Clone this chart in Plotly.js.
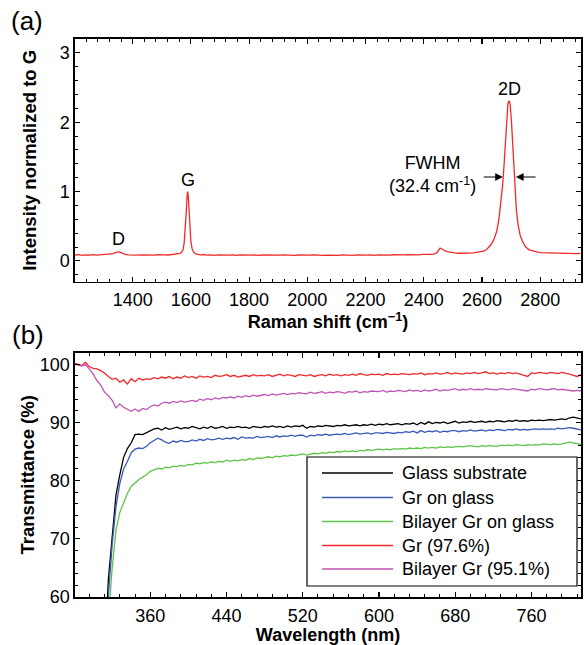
<!DOCTYPE html>
<html>
<head>
<meta charset="utf-8">
<script src="https://cdn.plot.ly/plotly-3.0.1.min.js"></script>
<style>html,body{margin:0;padding:0;background:#fff;}#chart{width:584px;height:645px;}</style>
</head>
<body>
<div id="chart"></div>
<script>
// ---------- Panel (a): Raman spectrum ----------
const ramanShift = [1202,1215,1228,1240,1252,1265,1278,1290,1302,1312,1322,1332,1340,1346,1352,1358,1365,1374,1385,1397,
 1410,1422,1435,1447,1460,1472,1485,1497,1510,1522,1535,1547,1556,1563,1568,1573,1577,1581,1584,1587,1589,1591,1594,1597,1600,1604,1609,1615,1623,1632,
 1645,1657,1670,1682,1695,1707,1720,1732,1745,1757,1770,1782,1795,1807,1820,1832,1845,1857,1870,1882,1895,1907,1920,1932,1945,1957,1970,1982,1995,
 2007,2020,2032,2045,2057,2070,2082,2095,2107,2120,2132,2145,2157,2170,2182,2195,2207,2220,2232,2245,2257,2270,2282,2295,2307,2320,2332,2345,2357,
 2370,2382,2395,2407,2420,2432,2440,2446,2451,2456,2461,2467,2475,2485,2495,2507,2520,2532,2545,2557,2570,2582,2595,2605,2615,2625,2632,2640,2650,
 2658,2665,2671,2676,2681,2685,2689,2693,2697,2701,2705,2709,2713,2718,2724,2731,2740,2750,2762,2775,2788,2800,2812,2825,2838,2850,2863,2875,2888,
 2900,2912,2925,2938];
const ramanIntensity = [0.085,0.090,0.080,0.088,0.083,0.090,0.082,0.087,0.084,0.090,0.093,0.105,0.118,0.127,0.130,0.122,0.108,0.095,0.088,0.084,
 0.089,0.082,0.087,0.083,0.088,0.084,0.089,0.083,0.087,0.085,0.090,0.092,0.098,0.108,0.125,0.160,0.260,0.450,0.700,0.930,1.000,0.940,0.700,0.450,0.280,0.180,0.130,0.105,0.092,0.087,
 0.090,0.083,0.088,0.080,0.086,0.082,0.088,0.083,0.087,0.081,0.086,0.083,0.088,0.082,0.086,0.080,0.085,0.083,0.087,0.081,0.086,0.082,0.087,0.083,0.086,0.080,0.085,0.082,0.087,
 0.083,0.086,0.081,0.085,0.079,0.084,0.080,0.085,0.081,0.086,0.082,0.085,0.080,0.086,0.083,0.087,0.082,0.086,0.081,0.087,0.084,0.088,0.083,0.089,0.085,0.090,0.086,0.090,0.087,
 0.092,0.088,0.093,0.090,0.095,0.098,0.105,0.125,0.160,0.185,0.175,0.155,0.140,0.130,0.120,0.115,0.110,0.108,0.110,0.112,0.115,0.120,0.130,0.140,0.160,0.200,0.240,0.300,0.420,
 0.600,0.850,1.100,1.400,1.800,2.100,2.270,2.310,2.240,2.020,1.700,1.330,1.020,0.740,0.520,0.370,0.270,0.200,0.160,0.140,0.130,0.120,0.118,0.113,0.117,0.110,0.114,0.108,0.112,
 0.106,0.110,0.105,0.108];

// ---------- Panel (b): transmittance ----------
const wlStart = 280, wlStep = 4, wlCount = 134;
const wavelength = Array.from({length: wlCount}, (_, i) => wlStart + wlStep * i);

const glassSubstrate = [
 1,1,1,2,3,6,15,32,50,63,
 71,77.5,81,84,85.5,86.5,87.9,88.0,87.9,88.2,
 88.5,88.9,89.0,88.7,89.1,88.8,89.0,89.2,88.9,89.1,
 89.0,89.3,89.1,88.9,89.2,89.0,89.3,89.0,89.1,89.3,
 89.0,89.2,89.1,89.3,89.1,89.2,89.0,89.3,89.2,89.1,
 89.3,89.2,89.4,89.2,89.3,89.1,89.4,89.2,89.4,89.3,
 89.5,89.0,89.3,89.2,89.4,89.3,89.5,89.4,89.3,89.5,
 89.4,89.6,89.4,89.5,89.6,89.4,89.6,89.5,89.7,89.5,
 89.7,89.6,89.8,89.6,89.7,89.8,89.6,89.8,89.7,89.9,
 89.6,90.0,89.7,90.1,89.8,90.0,89.9,90.1,89.8,90.0,
 90.2,89.9,90.1,90.0,90.2,90.0,90.1,90.2,90.0,90.2,
 90.1,90.3,90.2,90.1,90.3,90.2,90.4,90.2,90.3,90.2,
 90.4,90.3,90.4,90.3,90.4,90.5,90.4,90.5,90.6,90.5,
 90.8,90.9,90.7,90.6];
const grOnGlass = [
 1,1,1,1,2,4,12,28,46,60,
 69,75.5,79.5,82,83.3,84.8,85.4,85.6,85.5,85.9,
 86.5,86.9,87.3,87.0,86.6,86.4,86.8,86.6,86.9,86.7,
 86.7,87.0,86.8,87.1,86.9,87.2,87.0,87.1,87.3,87.1,
 87.3,87.2,87.4,87.1,87.5,87.3,87.4,87.3,87.6,87.4,
 87.5,87.6,87.4,87.7,87.5,87.7,87.6,87.8,87.6,87.8,
 87.8,87.5,87.8,87.7,87.9,87.8,88.0,87.8,87.9,88.0,
 87.9,88.1,87.9,88.0,88.2,88.0,88.1,88.2,88.0,88.2,
 88.2,88.1,88.3,88.2,88.1,88.3,88.2,88.4,88.3,88.5,
 88.2,88.6,88.3,88.5,88.4,88.6,88.3,88.5,88.4,88.6,
 88.6,88.4,88.6,88.5,88.7,88.5,88.6,88.7,88.5,88.7,
 88.6,88.8,88.7,88.6,88.8,88.7,88.9,88.7,88.8,88.7,
 88.8,88.9,88.8,88.9,88.8,88.9,88.8,89.0,88.9,89.0,
 89.1,89.0,88.8,88.7];
const bilayerOnGlass = [
 1,1,1,1,1,3,9,22,40,56,
 65,71.5,74.5,76.3,77.8,79.0,79.6,80.2,80.6,81.0,
 81.6,81.8,82.1,82.0,82.3,82.2,82.5,82.4,82.6,82.5,
 82.8,82.7,83.0,82.9,83.1,83.0,83.2,83.1,83.3,83.2,
 83.5,83.3,83.5,83.4,83.6,83.5,83.8,83.6,83.9,83.8,
 84.0,84.1,83.9,84.2,84.1,84.3,84.2,84.4,84.3,84.5,
 84.6,84.4,84.6,84.7,84.6,84.8,84.7,84.9,84.8,85.0,
 84.9,85.1,85.0,85.1,85.0,85.2,85.1,85.3,85.2,85.3,
 85.4,85.3,85.4,85.3,85.5,85.4,85.5,85.4,85.6,85.5,
 85.6,85.5,85.7,85.6,85.7,85.6,85.8,85.7,85.8,85.7,
 85.8,85.9,85.8,85.9,86.0,85.9,85.8,86.0,85.9,86.0,
 86.0,85.9,86.1,86.0,86.1,86.0,86.2,86.1,86.0,86.2,
 86.1,86.2,86.1,86.3,86.2,86.2,86.3,86.2,86.3,86.4,
 86.6,86.5,86.3,86.2];
const grFreestanding = [
 100.2,100.0,99.8,100.3,99.6,99.3,99.2,98.9,98.5,97.9,
 97.4,97.6,96.9,97.3,96.6,97.5,97.0,97.6,97.3,97.5,
 97.4,97.7,97.5,97.8,97.6,97.9,97.5,97.8,97.6,98.0,
 97.7,97.9,97.6,98.0,97.8,97.9,97.7,98.1,97.9,98.0,
 98.2,97.9,98.1,97.8,98.0,98.1,97.9,98.2,98.0,98.1,
 98.0,98.2,97.9,98.1,98.3,98.0,98.2,98.1,97.9,98.2,
 98.1,98.0,98.2,97.9,98.1,98.2,98.0,98.3,98.1,98.2,
 98.0,98.2,98.1,98.3,98.1,98.4,98.2,98.1,98.3,98.2,
 98.3,98.1,98.4,98.2,98.3,98.2,98.4,98.3,98.2,98.4,
 98.3,98.5,98.2,98.4,98.3,98.5,98.3,98.4,98.6,98.3,
 98.5,98.4,98.3,98.5,98.4,98.6,98.4,98.5,98.7,98.4,
 98.5,98.3,98.5,98.4,98.6,98.4,98.5,98.3,98.1,97.9,
 98.5,98.4,98.6,98.5,98.4,98.6,98.5,98.4,98.6,98.5,
 98.3,98.1,97.9,98.2];
const bilayerFreestanding = [
 100.0,99.8,99.7,99.9,99.2,98.3,97.2,96.4,95.2,94.6,
 93.8,92.5,93.2,92.6,92.3,91.9,92.3,91.9,92.4,92.2,
 92.7,93.0,92.8,93.3,93.5,93.3,93.6,93.4,93.7,93.5,
 93.6,93.8,93.6,94.0,93.8,94.1,93.9,94.2,94.0,94.3,
 94.2,94.4,94.2,94.5,94.3,94.6,94.4,94.7,94.5,94.6,
 94.8,94.6,94.9,94.7,94.8,95.0,94.8,95.0,94.9,95.1,
 95.0,94.9,95.2,95.0,95.1,95.3,95.0,95.2,95.1,95.3,
 95.2,95.0,95.3,95.2,95.4,95.1,95.3,95.2,95.4,95.3,
 95.3,95.5,95.2,95.4,95.3,95.5,95.4,95.3,95.6,95.4,
 95.5,95.3,95.6,95.4,95.5,95.7,95.4,95.6,95.5,95.7,
 95.8,95.5,95.7,95.6,95.8,95.6,95.7,95.6,95.8,95.7,
 95.7,95.6,95.8,95.7,95.6,95.8,95.7,95.6,95.5,95.4,
 95.7,95.6,95.8,95.7,95.6,95.7,95.8,95.6,95.7,95.6,
 95.5,95.4,95.5,95.4];

const seriesNames = ['Glass substrate','Gr on glass','Bilayer Gr on glass','Gr (97.6%)','Bilayer Gr (95.1%)'];
const seriesValues = [glassSubstrate, grOnGlass, bilayerOnGlass, grFreestanding, bilayerFreestanding];
const seriesColors = ['#000000','#3a5cb8','#5cc446','#f02a2a','#c055b5'];

const FONT = 'Liberation Sans, Arial, Helvetica, sans-serif';
const FS = 18;

const traces = [{
  x: ramanShift, y: ramanIntensity, xaxis:'x', yaxis:'y', type:'scatter', mode:'lines',
  line:{color:'#f02a2a', width:1.3}, name:'Raman', showlegend:false
}];
seriesNames.forEach((n,i)=>{
  traces.push({x: wavelength, y: seriesValues[i], xaxis:'x2', yaxis:'y2', type:'scatter', mode:'lines',
    line:{color: seriesColors[i], width:1.3}, name:n, showlegend:false});
});

function axisBase(){
  return {showline:true, linecolor:'#000', linewidth:1.6, mirror:'ticks', ticks:'inside', ticklen:5, tickwidth:1.2,
    tickcolor:'#000', showgrid:false, zeroline:false, tickfont:{size:FS, family:FONT, color:'#000'}};
}
const PLOT_L = 75, PLOT_R = 581, PLOT_T = 39, PLOT_B = 597;
const pw = PLOT_R - PLOT_L, ph = PLOT_B - PLOT_T;
const px = p => (p - PLOT_L)/pw;
const py = p => (PLOT_B - p)/ph;

const xa = Object.assign(axisBase(), {domain:[0,1], anchor:'y', range:[1202,2940], tick0:1400, dtick:200, ticklabelstandoff:1,
  minor:{tick0:1400, dtick:40, ticks:'inside', ticklen:3, tickwidth:1, tickcolor:'#000'},
  title:{text:'<b>Raman shift (cm<sup>−1</sup>)</b>', font:{size:FS, family:FONT}, standoff:0}});
const ya = Object.assign(axisBase(), {domain:[py(281.7),1], anchor:'x', range:[-0.30,3.20], tick0:0, dtick:1,
  minor:{tick0:0, dtick:0.2, ticks:'inside', ticklen:3, tickwidth:1, tickcolor:'#000'},
  title:{text:'<b>Intensity normalized to G</b>', font:{size:FS+0.5, family:FONT}, standoff:18}});
const xa2 = Object.assign(axisBase(), {domain:[0,1], anchor:'y2', range:[281,812], tick0:360, dtick:80, ticklabelstandoff:2,
  minor:{tick0:360, dtick:16, ticks:'inside', ticklen:3, tickwidth:1, tickcolor:'#000'},
  title:{text:'<b>Wavelength (nm)</b>', font:{size:FS, family:FONT}, standoff:0}});
const ya2 = Object.assign(axisBase(), {domain:[0,py(352.6)], anchor:'x2', range:[60,102], tick0:60, dtick:10,
  minor:{tick0:60, dtick:2, ticks:'inside', ticklen:3, tickwidth:1, tickcolor:'#000'},
  title:{text:'<b>Transmittance (%)</b>', font:{size:FS+0.5, family:FONT}, standoff:0}});

const annotations = [
  {xref:'paper', yref:'paper', x:px(27), y:py(21), text:'(a)', showarrow:false, font:{size:26, family:FONT}, xanchor:'center', yanchor:'middle'},
  {xref:'paper', yref:'paper', x:px(28), y:py(335), text:'(b)', showarrow:false, font:{size:26, family:FONT}, xanchor:'center', yanchor:'middle'},
  {xref:'x', yref:'y', x:1352, y:0.31, text:'D', showarrow:false, font:{size:FS, family:FONT}, xanchor:'center', yanchor:'middle'},
  {xref:'x', yref:'y', x:1590, y:1.16, text:'G', showarrow:false, font:{size:FS, family:FONT}, xanchor:'center', yanchor:'middle'},
  {xref:'x', yref:'y', x:2693, y:2.48, text:'2D', showarrow:false, font:{size:FS, family:FONT}, xanchor:'center', yanchor:'middle'},
  {xref:'x', yref:'y', x:2430, y:1.24, text:'FWHM<br>(32.4 cm<sup>-1</sup>)', showarrow:false, font:{size:FS, family:FONT}, xanchor:'center', yanchor:'middle'}
];

// FWHM arrows drawn as shapes (shaft + filled head), in data coordinates of panel (a)
const fwhmY = 1.21;
const shapes = [
  {type:'line', xref:'x', yref:'y', x0:2606, x1:2650, y0:fwhmY, y1:fwhmY, line:{color:'#000', width:1.2}},
  {type:'path', xref:'x', yref:'y', path:`M2670,${fwhmY} L2646,${fwhmY+0.05} L2646,${fwhmY-0.05} Z`, fillcolor:'#000', line:{color:'#000', width:0.5}},
  {type:'line', xref:'x', yref:'y', x0:2738, x1:2784, y0:fwhmY, y1:fwhmY, line:{color:'#000', width:1.2}},
  {type:'path', xref:'x', yref:'y', path:`M2718,${fwhmY} L2742,${fwhmY+0.05} L2742,${fwhmY-0.05} Z`, fillcolor:'#000', line:{color:'#000', width:0.5}},
  // legend box
  {type:'rect', xref:'paper', yref:'paper', x0:px(307), x1:px(577), y0:py(586), y1:py(457), line:{color:'#000', width:1.2}, fillcolor:'#fff', layer:'above'}
];
const legendRows = [473, 497.5, 521.5, 545.5, 569];
seriesNames.forEach((n,i)=>{
  shapes.push({type:'line', xref:'paper', yref:'paper', x0:px(322), x1:px(393), y0:py(legendRows[i]), y1:py(legendRows[i]),
    line:{color:seriesColors[i], width:1.3}, layer:'above'});
  annotations.push({xref:'paper', yref:'paper', x:px(400), y:py(legendRows[i]), text:n, showarrow:false,
    font:{size:FS, family:FONT}, xanchor:'left', yanchor:'middle'});
});

const layout = {
  width:584, height:645,
  margin:{l:PLOT_L, r:584-PLOT_R, t:PLOT_T, b:645-PLOT_B, pad:0},
  paper_bgcolor:'#fff', plot_bgcolor:'#fff',
  font:{family:FONT, size:FS, color:'#000'},
  showlegend:false,
  xaxis:xa, yaxis:ya, xaxis2:xa2, yaxis2:ya2,
  annotations:annotations, shapes:shapes
};

Plotly.newPlot('chart', traces, layout, {displayModeBar:false, staticPlot:true});
</script>
</body>
</html>
